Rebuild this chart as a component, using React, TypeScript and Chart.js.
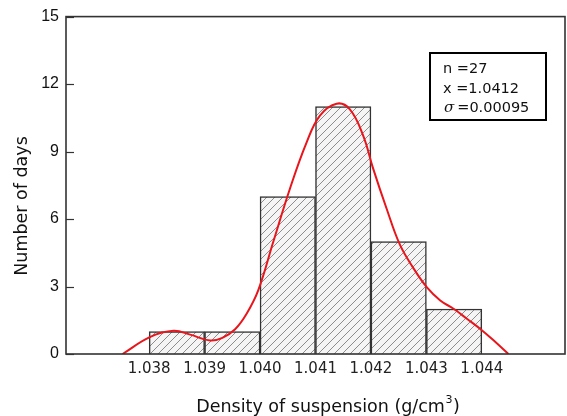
import React, { useEffect, useRef } from 'react';
import { Chart, registerables } from 'chart.js';

Chart.register(...registerables);

// ---- data ----
const binStarts = [1.038, 1.039, 1.04, 1.041, 1.042, 1.043];
const binCounts = [1, 1, 7, 11, 5, 2];
const binWidth = 0.001;
const xTicks = [1.038, 1.039, 1.04, 1.041, 1.042, 1.043, 1.044];
const yTicks = [0, 3, 6, 9, 12, 15];
const curveX = [
  1.03752, 1.03802, 1.03844, 1.03874, 1.0391, 1.03932, 1.03955, 1.03976, 1.03997,
  1.04024, 1.04054, 1.04084, 1.04108, 1.04138, 1.04162, 1.04186, 1.04204, 1.04228, 1.04252,
  1.04276, 1.04301, 1.04325, 1.04349, 1.04373, 1.044, 1.04424, 1.04448,
];
const curveY = [
  0, 0.76, 1.03, 0.86, 0.6, 0.72, 1.1, 1.8, 2.85,
  5.0, 7.36, 9.41, 10.6, 11.13, 10.88, 9.71, 8.24, 6.48, 4.87,
  3.84, 2.96, 2.38, 2.01, 1.57, 1.06, 0.54, 0,
];
const statN = 'n =27';
const statMean = 'x =1.0412';
const statSigmaSymbol = 'σ';
const statSigma = '=0.00095';
const xTitleMain = 'Density of suspension (g/cm';
const xTitleSup = '3';
const xTitleEnd = ')';
const yTitle = 'Number of days';

function makeHatch(): CanvasPattern | string {
  const s = 8;
  const c = document.createElement('canvas');
  c.width = s;
  c.height = s;
  const g = c.getContext('2d');
  if (!g) return '#eee';
  g.fillStyle = '#f5f5f5';
  g.fillRect(0, 0, s, s);
  g.strokeStyle = '#6a6a6a';
  g.lineWidth = 0.75;
  g.beginPath();
  g.moveTo(0, s);
  g.lineTo(s, 0);
  g.moveTo(-1, 1);
  g.lineTo(1, -1);
  g.moveTo(s - 1, s + 1);
  g.lineTo(s + 1, s - 1);
  g.stroke();
  return g.createPattern(c, 'repeat') || '#eee';
}

const decor = {
  id: 'decor',
  afterDraw(chart: any) {
    const { ctx, chartArea: a, scales } = chart;
    ctx.save();
    // frame
    ctx.strokeStyle = '#333';
    ctx.lineWidth = 1.6;
    ctx.strokeRect(a.left, a.top, a.right - a.left, a.bottom - a.top);
    // inward y ticks
    ctx.lineWidth = 1.2;
    yTicks.forEach((v) => {
      const y = Math.round(scales.y.getPixelForValue(v)) + 0.5;
      ctx.beginPath();
      ctx.moveTo(a.left, y);
      ctx.lineTo(a.left + 8, y);
      ctx.stroke();
    });
    // stats box
    const bx = 430, by = 53, bw = 116, bh = 67;
    ctx.fillStyle = '#fff';
    ctx.fillRect(bx, by, bw, bh);
    ctx.strokeStyle = '#000';
    ctx.lineWidth = 2;
    ctx.strokeRect(bx, by, bw, bh);
    ctx.fillStyle = '#111';
    ctx.textBaseline = 'middle';
    ctx.textAlign = 'left';
    ctx.font = '14.5px "DejaVu Sans"';
    ctx.fillText(statN, 443, 69);
    ctx.fillText(statMean, 443, 89);
    ctx.font = 'italic 15px "DejaVu Serif"';
    ctx.fillText(statSigmaSymbol, 444, 108);
    const sw = ctx.measureText(statSigmaSymbol).width;
    ctx.font = '14.5px "DejaVu Sans"';
    ctx.fillText(statSigma, 444 + sw + 3, 108);
    // x title
    ctx.font = '17.5px "DejaVu Sans"';
    const w1 = ctx.measureText(xTitleMain).width;
    ctx.font = '11px "DejaVu Sans"';
    const w2 = ctx.measureText(xTitleSup).width;
    ctx.font = '17.5px "DejaVu Sans"';
    const w3 = ctx.measureText(xTitleEnd).width;
    const total = w1 + w2 + w3 + 1;
    const x0 = 328 - total / 2;
    const ty = 407;
    ctx.fillText(xTitleMain, x0, ty);
    ctx.font = '11px "DejaVu Sans"';
    ctx.fillText(xTitleSup, x0 + w1 + 0.5, ty - 7);
    ctx.font = '17.5px "DejaVu Sans"';
    ctx.fillText(xTitleEnd, x0 + w1 + w2 + 1, ty);
    // y title
    ctx.translate(22, 206);
    ctx.rotate(-Math.PI / 2);
    ctx.textAlign = 'center';
    ctx.font = '17.5px "DejaVu Sans"';
    ctx.fillText(yTitle, 0, 0);
    ctx.restore();
  },
};

export default function App() {
  const ref = useRef<HTMLCanvasElement | null>(null);
  useEffect(() => {
    if (!ref.current) return;
    const hatch = makeHatch();
    const chart = new Chart(ref.current, {
      type: 'bar',
      data: {
        datasets: [
          {
            type: 'line',
            data: curveX.map((x, i) => ({ x, y: curveY[i] })),
            borderColor: '#e8161c',
            borderWidth: 2,
            pointRadius: 0,
            tension: 0.4,
            fill: false,
            order: 0,
          } as any,
          {
            type: 'bar',
            data: binStarts.map((x, i) => ({ x: x + binWidth / 2, y: binCounts[i] })),
            backgroundColor: hatch as any,
            borderColor: '#333',
            borderWidth: 1.5,
            barPercentage: 1,
            categoryPercentage: 1,
            order: 1,
          } as any,
        ],
      },
      options: {
        animation: false,
        responsive: true,
        maintainAspectRatio: false,
        layout: { padding: { top: 13, right: 2, left: 0, bottom: 0 } },
        plugins: { legend: { display: false }, tooltip: { enabled: false } },
        scales: {
          x: {
            type: 'linear',
            min: 1.0365,
            max: 1.0455,
            offset: false,
            grid: { display: false, drawTicks: false },
            border: { display: false },
            afterBuildTicks: (s: any) => {
              s.ticks = xTicks.map((v) => ({ value: v }));
            },
            afterFit: (s: any) => {
              s.height = 62;
            },
            ticks: {
              autoSkip: false,
              maxRotation: 0,
              padding: 6,
              color: '#222',
              font: { family: 'DejaVu Sans', size: 15 },
              callback: (v: any) => Number(v).toFixed(3),
            },
          },
          y: {
            min: 0,
            max: 15,
            grid: { display: false, drawTicks: false },
            border: { display: false },
            afterBuildTicks: (s: any) => {
              s.ticks = yTicks.map((v) => ({ value: v }));
            },
            afterFit: (s: any) => {
              s.width = 66;
            },
            ticks: {
              padding: 7,
              color: '#111',
              font: { family: 'Liberation Sans', size: 16 },
            },
          },
        },
      },
      plugins: [decor],
    });
    return () => chart.destroy();
  }, []);
  return (
    <div style={{ position: 'fixed', left: 0, top: 0, width: 567, height: 416, background: '#fff' }}>
      <canvas ref={ref} />
    </div>
  );
}
